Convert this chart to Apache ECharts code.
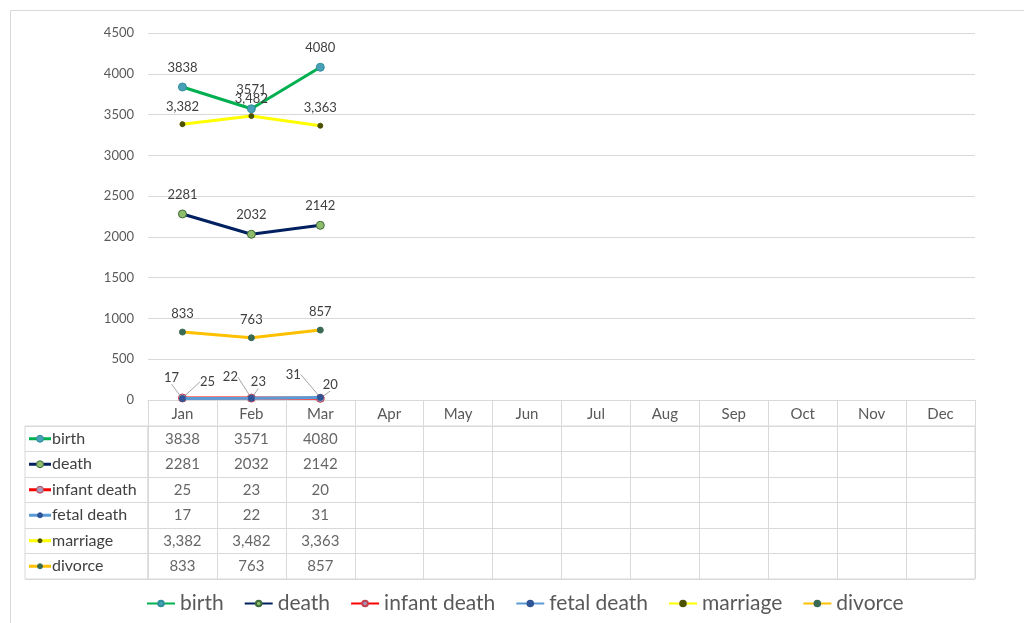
<!DOCTYPE html>
<html><head><meta charset="utf-8">
<script src="https://cdn.jsdelivr.net/npm/echarts@6/dist/echarts.min.js"></script>
<style>html,body{margin:0;padding:0;background:#fff}#c{width:1024px;height:623px}</style>
</head><body><div id="c"></div>
<script>
// ---- data ----
const months = ['Jan','Feb','Mar','Apr','May','Jun','Jul','Aug','Sep','Oct','Nov','Dec'];
const seriesNames = ['birth','death','infant death','fetal death','marriage','divorce'];
const birth = [3838, 3571, 4080];
const death = [2281, 2032, 2142];
const infantDeath = [25, 23, 20];
const fetalDeath = [17, 22, 31];
const marriage = [3382, 3482, 3363];
const divorce = [833, 763, 857];
const yMin = 0, yMax = 4500, yStep = 500;
const seriesValues = [birth, death, infantDeath, fetalDeath, marriage, divorce];
const useComma = [false, false, false, false, true, false];

// ---- styles ----
const FONT = 'Lato, "Liberation Sans", sans-serif';
const lineColors = ['#00b050', '#002060', '#ff0000', '#5b9bd5', '#ffff00', '#ffc000'];
const markerFill = ['#4a9fb8', '#8fbc6a', '#a59ab8', '#2f5597', '#4d5200', '#3c6b55'];
const markerBorder = ['#2f8f9a', '#3d6b3a', '#c04050', '#2f5597', '#4d5200', '#3c6b55'];
const markerSize = [8, 8, 8, 6, 5, 6];
// label offsets for the small series (dx, dy per point)
const labelShift = {
  2: [[25,-16],[7,-16],[10,-14]],
  3: [[-11,-21],[-21,-21],[-27,-23]]
};

function fmt(v, comma) {
  return comma ? v.toLocaleString('en-US') : String(v);
}

const chart = echarts.init(document.getElementById('c'));

const lineSeries = seriesNames.map((name, i) => {
  const s = {
    name: name,
    type: 'line',
    xAxisIndex: 0, yAxisIndex: 0,
    data: seriesValues[i],
    symbol: 'circle',
    symbolSize: markerSize[i],
    showAllSymbol: true,
    lineStyle: { color: lineColors[i], width: 3 },
    itemStyle: { color: markerFill[i], borderColor: markerBorder[i], borderWidth: 1 },
    emphasis: { disabled: true },
    z: 3 + i,
    label: {
      show: true,
      position: 'top',
      distance: 8,
      color: '#404040',
      fontFamily: FONT,
      fontSize: 13,
      formatter: p => fmt(p.value, useComma[i])
    },
    animation: false
  };
  if (labelShift[i]) {
    s.label.position = 'inside';
    s.label.distance = 0;
    s.labelLayout = p => ({ dx: labelShift[i][p.dataIndex][0], dy: labelShift[i][p.dataIndex][1] });
    s.labelLine = { show: true, lineStyle: { color: '#a6a6a6', width: 1 } };
  }
  return s;
});

// table cell values
const cellData = [];
seriesValues.forEach((arr, r) => {
  arr.forEach((v, m) => cellData.push([m, r, fmt(v, useComma[r])]));
});

const tableSeries = {
  type: 'scatter',
  xAxisIndex: 1, yAxisIndex: 1,
  data: cellData,
  symbolSize: 0,
  silent: true,
  animation: false,
  label: {
    show: true, position: 'inside',
    color: '#404040', fontFamily: FONT, fontSize: 15,
    formatter: p => p.value[2]
  }
};

const headerSeries = {
  type: 'custom',
  xAxisIndex: 2, yAxisIndex: 2,
  data: seriesNames.map((n, r) => [0, r]),
  silent: true,
  animation: false,
  renderItem: (params, api) => {
    const r = api.value(1);
    const pt = api.coord([0, r]);
    const x0 = params.coordSys.x + 4;
    return {
      type: 'group',
      children: [
        { type: 'line', shape: { x1: x0, y1: pt[1], x2: x0 + 22, y2: pt[1] },
          style: { stroke: lineColors[r], lineWidth: 3 } },
        { type: 'circle', shape: { cx: x0 + 11, cy: pt[1], r: markerSize[r] / 2 - 0.5 },
          style: { fill: markerFill[r], stroke: markerBorder[r], lineWidth: 1 } },
        { type: 'text', style: { x: x0 + 23, y: pt[1], text: seriesNames[r], fill: '#404040',
          font: '16px ' + FONT, verticalAlign: 'middle', align: 'left' } }
      ]
    };
  }
};

chart.setOption({
  backgroundColor: '#ffffff',
  animation: false,
  graphic: [{
    type: 'rect', left: 8, top: 8, silent: true,
    shape: { width: 1100, height: 700 },
    style: { fill: 'none', stroke: '#d9d9d9', lineWidth: 1 }
  }],
  legend: {
    data: seriesNames,
    left: 141, top: 588,
    itemWidth: 28, itemHeight: 7, itemGap: 20,
    textStyle: { color: '#595959', fontFamily: FONT, fontSize: 21 },
    selectedMode: false
  },
  grid: [
    { left: 148, top: 33, width: 827, height: 367 },
    { left: 148, top: 426, width: 827, height: 153, show: true, borderColor: '#d9d9d9', borderWidth: 1 },
    { left: 25, top: 426, width: 123, height: 153, show: true, borderColor: '#d9d9d9', borderWidth: 1 }
  ],
  xAxis: [
    { type: 'category', gridIndex: 0, data: months, boundaryGap: true,
      axisLine: { lineStyle: { color: '#d9d9d9', width: 1 } },
      axisTick: { show: true, length: 26, lineStyle: { color: '#d9d9d9' } },
      axisLabel: { color: '#595959', fontFamily: FONT, fontSize: 15, margin: 7, interval: 0 } },
    { type: 'category', gridIndex: 1, data: months, boundaryGap: true,
      axisLine: { show: false }, axisTick: { show: false }, axisLabel: { show: false },
      splitLine: { show: true, interval: 0, lineStyle: { color: '#d9d9d9' } } },
    { type: 'category', gridIndex: 2, data: ['x'], show: false }
  ],
  yAxis: [
    { type: 'value', gridIndex: 0, min: yMin, max: yMax, interval: yStep,
      axisLine: { show: false }, axisTick: { show: false },
      axisLabel: { color: '#595959', fontFamily: FONT, fontSize: 13, margin: 14, formatter: v => String(v) },
      splitLine: { lineStyle: { color: '#d9d9d9' } } },
    { type: 'category', gridIndex: 1, data: seriesNames, inverse: true,
      axisLine: { show: false }, axisTick: { show: false }, axisLabel: { show: false },
      splitLine: { show: true, interval: 0, lineStyle: { color: '#d9d9d9' } } },
    { type: 'category', gridIndex: 2, data: seriesNames, inverse: true,
      axisLine: { show: false }, axisTick: { show: false }, axisLabel: { show: false },
      splitLine: { show: true, interval: 0, lineStyle: { color: '#d9d9d9' } } }
  ],
  series: lineSeries.concat([tableSeries, headerSeries])
});
</script>
</body></html>
